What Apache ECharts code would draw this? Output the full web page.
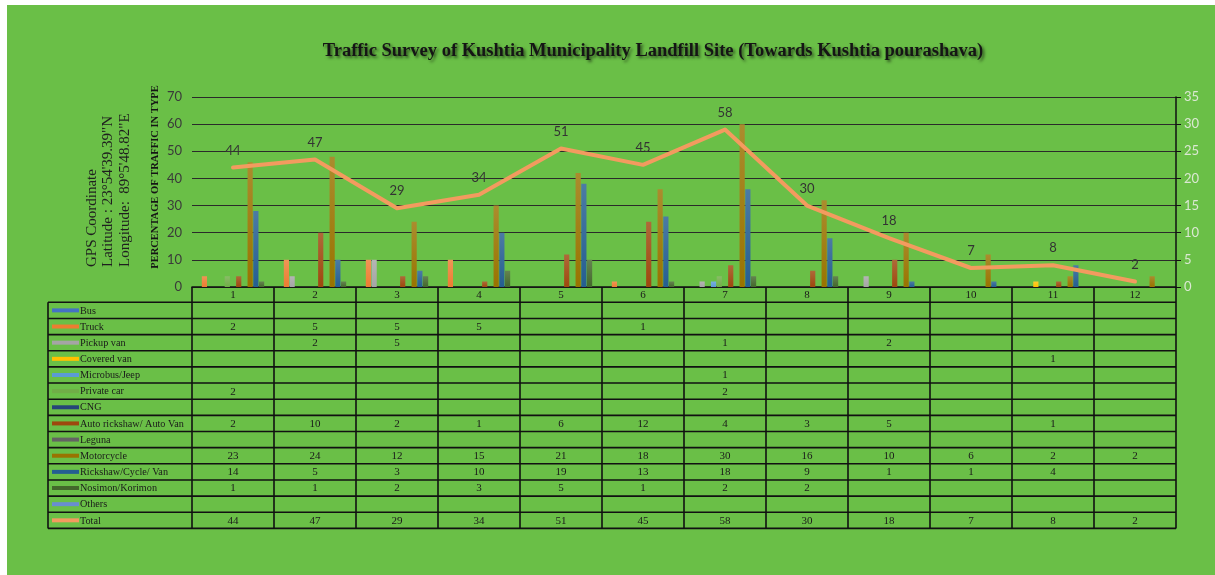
<!DOCTYPE html>
<html>
<head>
<meta charset="utf-8">
<title>Traffic Survey of Kushtia Municipality Landfill Site</title>
<script src="https://cdn.jsdelivr.net/npm/echarts@6/dist/echarts.min.js"></script>
<style>
  html, body { margin: 0; padding: 0; background: #ffffff; }
  #chart { position: absolute; left: 7px; top: 5px; width: 1208px; height: 570px; }
</style>
</head>
<body>
<div id="chart"></div>
<script>
// Survey points (columns of the table)
const categories = ['1', '2', '3', '4', '5', '6', '7', '8', '9', '10', '11', '12'];

// Vehicle counts per survey point, by type
const bus          = [null, null, null, null, null, null, null, null, null, null, null, null];
const truck        = [2, 5, 5, 5, null, 1, null, null, null, null, null, null];
const pickupVan    = [null, 2, 5, null, null, null, 1, null, 2, null, null, null];
const coveredVan   = [null, null, null, null, null, null, null, null, null, null, 1, null];
const microbusJeep = [null, null, null, null, null, null, 1, null, null, null, null, null];
const privateCar   = [2, null, null, null, null, null, 2, null, null, null, null, null];
const cng          = [null, null, null, null, null, null, null, null, null, null, null, null];
const autoRickshaw = [2, 10, 2, 1, 6, 12, 4, 3, 5, null, 1, null];
const leguna       = [null, null, null, null, null, null, null, null, null, null, null, null];
const motorcycle   = [23, 24, 12, 15, 21, 18, 30, 16, 10, 6, 2, 2];
const rickshawVan  = [14, 5, 3, 10, 19, 13, 18, 9, 1, 1, 4, null];
const nosimon      = [1, 1, 2, 3, 5, 1, 2, 2, null, null, null, null];
const others       = [null, null, null, null, null, null, null, null, null, null, null, null];
const total        = [44, 47, 29, 34, 51, 45, 58, 30, 18, 7, 8, 2];

// Axis ticks
const leftTicks  = { min: 0, max: 70, interval: 10 };
const rightTicks = { min: 0, max: 35, interval: 5 };

const vehicleTypes = [
  { name: 'Bus', data: bus, color: '#4472C4' },
  { name: 'Truck', data: truck, color: '#ED7D31' },
  { name: 'Pickup van', data: pickupVan, color: '#A5A5A5' },
  { name: 'Covered van', data: coveredVan, color: '#FFC000' },
  { name: 'Microbus/Jeep', data: microbusJeep, color: '#5B9BD5' },
  { name: 'Private car', data: privateCar, color: '#70AD47' },
  { name: 'CNG', data: cng, color: '#264478' },
  { name: 'Auto rickshaw/ Auto Van', data: autoRickshaw, color: '#9E480E' },
  { name: 'Leguna', data: leguna, color: '#636363' },
  { name: 'Motorcycle', data: motorcycle, color: '#997300' },
  { name: 'Rickshaw/Cycle/ Van', data: rickshawVan, color: '#255E91' },
  { name: 'Nosimon/Korimon', data: nosimon, color: '#43682B' },
  { name: 'Others', data: others, color: '#698ED0' }
];
const totalInfo = { name: 'Total', data: total, color: '#F39B5F' };

const BG = '#6abf47';
const SERIF = '"Liberation Serif", "Times New Roman", serif';
const SANS = 'Lato, "Open Sans", sans-serif';

function lighten(hex, k) {
  const n = parseInt(hex.slice(1), 16);
  const r = (n >> 16) & 255, g = (n >> 8) & 255, b = n & 255;
  const f = c => Math.round(c + (255 - c) * k);
  return 'rgb(' + f(r) + ',' + f(g) + ',' + f(b) + ')';
}

const chart = echarts.init(document.getElementById('chart'), null, { renderer: 'canvas' });

const barSeries = vehicleTypes.map(t => ({
  name: t.name,
  type: 'bar',
  yAxisIndex: 1,
  data: t.data,
  barGap: '10%',
  barCategoryGap: '10%',
  itemStyle: {
    color: new echarts.graphic.LinearGradient(0, 0, 0, 1, [
      { offset: 0, color: lighten(t.color, 0.18) },
      { offset: 1, color: t.color }
    ])
  },
  emphasis: { disabled: true }
}));

const lineSeries = {
  name: totalInfo.name,
  type: 'line',
  yAxisIndex: 0,
  data: totalInfo.data,
  symbol: 'circle',
  symbolSize: 1,
  showSymbol: true,
  itemStyle: { color: 'rgba(0,0,0,0)' },
  z: 5,
  lineStyle: { color: totalInfo.color, width: 4, cap: 'round', join: 'round' },
  label: {
    show: true,
    position: 'top',
    distance: 10,
    color: '#333333',
    fontFamily: SANS,
    fontSize: 13
  },
  labelLayout: { hideOverlap: false },
  emphasis: { disabled: true }
};

chart.setOption({
  backgroundColor: BG,
  animation: false,
  grid: { left: 185, top: 92, right: 39, height: 190, containLabel: false },
  xAxis: {
    type: 'category',
    data: categories,
    axisLine: { show: true, lineStyle: { color: '#111111', width: 1.5 } },
    axisTick: { show: false },
    axisLabel: { color: '#1a1a1a', fontFamily: SERIF, fontSize: 11, margin: 3 }
  },
  yAxis: [
    {
      type: 'value',
      min: leftTicks.min, max: leftTicks.max, interval: leftTicks.interval,
      axisLine: { show: false },
      axisTick: { show: false },
      axisLabel: { color: '#3a3a3a', fontFamily: SANS, fontSize: 13, margin: 10 },
      splitLine: { show: true, lineStyle: { color: '#2a2a2a', width: 1 } }
    },
    {
      type: 'value',
      position: 'right',
      min: rightTicks.min, max: rightTicks.max, interval: rightTicks.interval,
      axisLine: { show: true, lineStyle: { color: '#111111', width: 1.5 } },
      axisTick: { show: true, inside: false, length: 5, lineStyle: { color: '#111111' } },
      axisLabel: { color: '#dbe8d3', fontFamily: SANS, fontSize: 13, margin: 8 },
      splitLine: { show: false }
    }
  ],
  series: barSeries.concat([lineSeries])
});

// Data table under the plot, aligned to the category axis
const HEADER_H = 15.3;
const ROW_H = 16.15;
const LABEL_LEFT = 41;

function buildGraphics() {
  const c0 = chart.convertToPixel({ xAxisIndex: 0 }, categories[0]);
  const c1 = chart.convertToPixel({ xAxisIndex: 0 }, categories[1]);
  const band = c1 - c0;
  const colLeft = c0 - band / 2;
  const colRight = colLeft + band * categories.length;
  const axisY = chart.convertToPixel({ yAxisIndex: 0 }, 0);
  const tableTop = axisY + HEADER_H;
  const rows = vehicleTypes.concat([totalInfo]);
  const tableBottom = tableTop + ROW_H * rows.length;
  const lineStyle = { stroke: '#111111', lineWidth: 1.6 };
  const els = [];

  for (let i = 0; i <= rows.length; i++) {
    const y = tableTop + i * ROW_H;
    els.push({ type: 'line', silent: true, shape: { x1: LABEL_LEFT, y1: y, x2: colRight, y2: y }, style: lineStyle });
  }
  els.push({ type: 'line', silent: true, shape: { x1: LABEL_LEFT, y1: tableTop, x2: LABEL_LEFT, y2: tableBottom }, style: lineStyle });
  for (let j = 0; j <= categories.length; j++) {
    const x = colLeft + j * band;
    els.push({ type: 'line', silent: true, shape: { x1: x, y1: axisY, x2: x, y2: tableBottom }, style: lineStyle });
  }

  rows.forEach((row, i) => {
    const cy = tableTop + i * ROW_H + ROW_H / 2;
    els.push({
      type: 'line', silent: true,
      shape: { x1: LABEL_LEFT + 4, y1: cy, x2: LABEL_LEFT + 31, y2: cy },
      style: { stroke: row.color, lineWidth: 4 }
    });
    els.push({
      type: 'text', silent: true, x: LABEL_LEFT + 32, y: cy + 0.5,
      style: { text: row.name, fill: '#1a1a1a', font: '10.2px ' + SERIF, textAlign: 'left', textVerticalAlign: 'middle' }
    });
    row.data.forEach((v, j) => {
      if (v === null || v === undefined) return;
      els.push({
        type: 'text', silent: true, x: colLeft + (j + 0.5) * band, y: cy + 0.5,
        style: { text: String(v), fill: '#1a1a1a', font: '11px ' + SERIF, textAlign: 'center', textVerticalAlign: 'middle' }
      });
    });
  });

  // Chart title
  els.push({
    type: 'text', silent: true, x: 646, y: 46,
    style: {
      text: 'Traffic Survey of Kushtia Municipality Landfill Site (Towards Kushtia pourashava)',
      fill: '#151515', font: 'bold 18.5px ' + SERIF, textAlign: 'center', textVerticalAlign: 'middle',
      textShadowColor: 'rgba(0,0,0,0.55)', textShadowBlur: 3, textShadowOffsetX: 2, textShadowOffsetY: 2
    }
  });

  // Left axis name
  els.push({
    type: 'text', silent: true, x: 148, y: 172, rotation: Math.PI / 2,
    style: { text: 'PERCENTAGE OF TRAFFIC IN TYPE', fill: '#151515', font: 'bold 10.5px ' + SERIF, textAlign: 'center', textVerticalAlign: 'middle' }
  });

  // Site coordinates
  const gps = ['GPS Coordinate', 'Latitude : 23\u00b054\'39.39"N', 'Longitude:  89\u00b05\'48.82"E'];
  const gpsX = [85, 101, 118];
  gps.forEach((t, k) => {
    els.push({
      type: 'text', silent: true, x: gpsX[k], y: 262, rotation: Math.PI / 2,
      style: { text: t, fill: '#1f1f1f', font: '15px ' + SERIF, textAlign: 'left', textVerticalAlign: 'middle' }
    });
  });

  chart.setOption({ graphic: { elements: els } });
}

buildGraphics();
</script>
</body>
</html>
